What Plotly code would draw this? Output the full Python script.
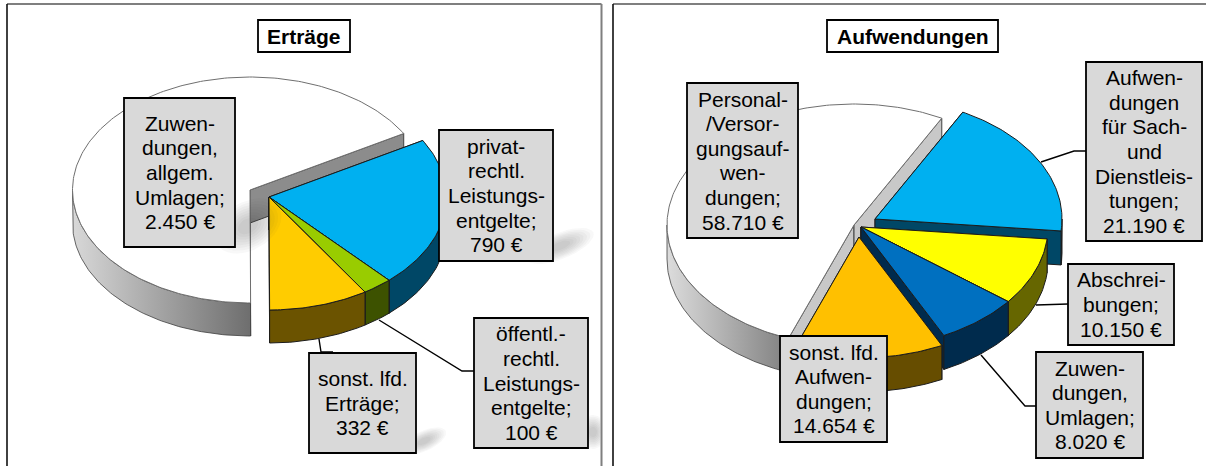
import numpy as np
import plotly.graph_objects as go

# ---------- data ----------
ertraege_names = ["Zuwendungen, allgem. Umlagen", "privatrechtl. Leistungsentgelte",
                  "öffentl.-rechtl. Leistungsentgelte", "sonst. lfd. Erträge"]
ertraege_values = [2450, 790, 100, 332]
ertraege_lines = [["Zuwen-", "dungen,", "allgem.", "Umlagen;"],
                  ["privat-", "rechtl.", "Leistungs-", "entgelte;"],
                  ["öffentl.-", "rechtl.", "Leistungs-", "entgelte;"],
                  ["sonst. lfd.", "Erträge;"]]

aufw_names = ["Personal-/Versorgungsaufwendungen", "Aufwendungen für Sach- und Dienstleistungen",
              "Abschreibungen", "Zuwendungen, Umlagen", "sonst. lfd. Aufwendungen"]
aufw_values = [58710, 21190, 10150, 8020, 14654]
aufw_lines = [["Personal-", "/Versor-", "gungsauf-", "wen-", "dungen;"],
              ["Aufwen-", "dungen", "für Sach-", "und", "Dienstleis-", "tungen;"],
              ["Abschrei-", "bungen;"],
              ["Zuwen-", "dungen,", "Umlagen;"],
              ["sonst. lfd.", "Aufwen-", "dungen;"]]

# ---------- style ----------
FONT = "Liberation Sans"
FS = 21
PITCH = 24.6
EDGE = "#1c1c1c"

panel_l = dict(
    a=177.5, b=113, h=33, end_angle=60.0,
    centers=[(250, 190), (269, 197), (269, 197), (269, 197)],
    top=["#ffffff", "#00b0f0", "#99cc00", "#ffcc00"],
    rim=["#6e6e6e", "#004766", "#3d5200", "#6b5300"],
    wall=["#8c8c8c", "#004766", "#3d5200", "#6b5300"],
    rim_light="#d8d8d8",
    boxes=[(124, 235, 98, 247), (439, 553, 130, 261), (474, 588, 318, 448), (309, 416, 353, 453)],
    leaders=[None, None, [(379, 320), (462, 371), (474, 371)], [(319, 339), (321, 352), (333, 352)]],
    frame=(7, 601.5), frame_right=True, title="Erträge", title_box=(258, 350, 20, 52),
)
panel_r = dict(
    a=187, b=121, h=34, end_angle=28.0,
    centers=[(854, 225), (875, 219), (861, 227), (861, 227), (859, 237)],
    top=["#ffffff", "#00b0f0", "#ffff00", "#0070c0", "#ffc000"],
    rim=["#808080", "#004766", "#666600", "#002b4d", "#664d00"],
    wall=["#c8c8c8", "#004766", "#666600", "#002b4d", "#664d00"],
    rim_light="#dcdcdc",
    boxes=[(687, 798, 83, 238), (1086, 1202, 62, 241), (1068, 1174, 264, 345), (1036, 1143, 352, 458), (780, 887, 336, 442)],
    leaders=[None, [(1041, 162), (1074, 151), (1086, 151)], [(1036, 305), (1056, 304), (1068, 304)],
             [(981, 355), (1025, 406), (1036, 406)], None],
    frame=(613, 1206), frame_right=False, title="Aufwendungen", title_box=(827, 998, 20, 52),
)
# soft shadows beside the labels: centre x, centre y, half-axes, tilt in degrees
shadows = [(560, 246, 36, 13, -22), (593, 432, 13, 17, 0), (424, 441, 24, 10, -25), (248, 226, 36, 24, -30)]
SHADOW_SCALES = (0.3, 0.4, 0.5, 0.6, 0.7, 0.8, 0.9, 1.0)


def rim_xy(c, a, b, t):
    t = np.radians(t)
    return c[0] + a * np.sin(t), c[1] - b * np.cos(t)


def euro(v):
    return f"{v:,}".replace(",", ".") + " €"


fig = go.Figure()


def poly(x, y, fill=None, line=EDGE, width=1.0, grad=None):
    kw = dict(fillcolor=fill) if grad is None else dict(fillgradient=grad)
    fig.add_trace(go.Scatter(x=list(x), y=list(y), mode="lines", fill="toself",
                             line=dict(color=line, width=width), hoverinfo="skip", showlegend=False, **kw))


def draw_pie(p, values):
    total = sum(values)
    a, b, h = p["a"], p["b"], p["h"]
    spans = [v / total * 360 for v in values]
    # white slice ends at end_angle, remaining slices follow clockwise
    t0 = p["end_angle"] - spans[0]
    for i, sp in enumerate(spans):
        t1 = t0 + sp
        c = p["centers"][i]
        neutral = i == 0
        for t in (t0, t1):
            xr, yr = rim_xy(c, a, b, t)
            poly([c[0], xr, xr, c[0], c[0]], [c[1], yr, yr + h, c[1] + h, c[1]],
                 fill=p["wall"][i], line="#404040" if neutral else EDGE)
        lo, hi = max(t0, 90), min(t1, 270)
        if t0 < 0:
            lo, hi = t0 + 360, 270
        if hi > lo:
            ts = np.arange(lo, hi, 1.0)
            ts = np.append(ts, hi)
            xr, yr = rim_xy(c, a, b, ts)
            xs = np.concatenate([xr, xr[::-1], xr[:1]])
            ys = np.concatenate([yr, yr[::-1] + h, yr[:1]])
            if neutral:
                grad = dict(type="horizontal",
                            colorscale=[[0, p["rim_light"]], [1, p["rim"][i]]])
                poly(xs, ys, grad=grad, line="#404040", width=0.8)
            else:
                poly(xs, ys, fill=p["rim"][i])
        ts = np.arange(t0, t1, 1.0)
        ts = np.append(ts, t1)
        xr, yr = rim_xy(c, a, b, ts)
        poly(np.concatenate([[c[0]], xr, [c[0]]]), np.concatenate([[c[1]], yr, [c[1]]]),
             fill=p["top"][i], line="#6f6f6f" if neutral else EDGE, width=1.0)
        t0 = t1


draw_pie(panel_l, ertraege_values)
draw_pie(panel_r, aufw_values)

# blurred look: stacked translucent ellipses
ang = np.radians(np.arange(0, 361, 10))
for cx, cy, rx, ry, tilt in shadows:
    ca, sa = np.cos(np.radians(tilt)), np.sin(np.radians(tilt))
    for s in SHADOW_SCALES:
        u, v = rx * s * np.cos(ang), ry * s * np.sin(ang)
        xs = np.minimum(cx + u * ca - v * sa, 600.5)
        ys = cy + u * sa + v * ca
        poly(xs, ys, fill="rgba(60,60,60,0.035)", line="rgba(0,0,0,0)", width=0)

shapes = []
annotations = []


def rect(x0, x1, y0, y1, fill, color, width):
    shapes.append(dict(type="rect", x0=x0, x1=x1, y0=y0, y1=y1, fillcolor=fill,
                       line=dict(color=color, width=width), layer="above"))


def draw_labels(p, values, lines):
    fx0, fx1 = p["frame"]
    shapes.append(dict(type="line", x0=fx0, x1=fx1, y0=4, y1=4, line=dict(color="#7f7f7f", width=2), layer="above"))
    shapes.append(dict(type="line", x0=fx0, x1=fx0, y0=4, y1=466, line=dict(color="#111111", width=1.6), layer="above"))
    if p["frame_right"]:
        shapes.append(dict(type="line", x0=fx1, x1=fx1, y0=4, y1=466, line=dict(color="#7f7f7f", width=2), layer="above"))
    for leader in p["leaders"]:
        if leader:
            fig.add_trace(go.Scatter(x=[q[0] for q in leader], y=[q[1] for q in leader], mode="lines",
                                     line=dict(color="#000000", width=1.4), hoverinfo="skip", showlegend=False))
    tx0, tx1, ty0, ty1 = p["title_box"]
    rect(tx0, tx1, ty0, ty1, "#ffffff", "#000000", 1.8)
    annotations.append(dict(x=(tx0 + tx1) / 2, y=(ty0 + ty1) / 2 + 0.5, text=f"<b>{p['title']}</b>", showarrow=False,
                            xanchor="center", yanchor="middle", font=dict(family=FONT, size=FS, color="#000000")))
    for box, v, ls in zip(p["boxes"], values, lines):
        x0, x1, y0, y1 = box
        rect(x0, x1, y0, y1, "#d9d9d9", "#000000", 1.8)
        ls = ls + [euro(v)]
        yc = (y0 + y1) / 2
        for j, s in enumerate(ls):
            annotations.append(dict(x=(x0 + x1) / 2, y=yc + (j - (len(ls) - 1) / 2) * PITCH, text=s, showarrow=False,
                                    xanchor="center", yanchor="middle",
                                    font=dict(family=FONT, size=FS, color="#000000")))


draw_labels(panel_l, ertraege_values, ertraege_lines)
draw_labels(panel_r, aufw_values, aufw_lines)

fig.update_layout(
    width=1206, height=466, margin=dict(l=0, r=0, t=0, b=0), autosize=False,
    paper_bgcolor="#ffffff", plot_bgcolor="#ffffff", showlegend=False,
    xaxis=dict(range=[0, 1206], visible=False, fixedrange=True),
    yaxis=dict(range=[466, 0], visible=False, fixedrange=True),
    shapes=shapes, annotations=annotations,
)
fig.write_html("out.html", config=dict(displayModeBar=False),
               post_script="document.body.style.margin='0';document.body.style.overflow='hidden';")
